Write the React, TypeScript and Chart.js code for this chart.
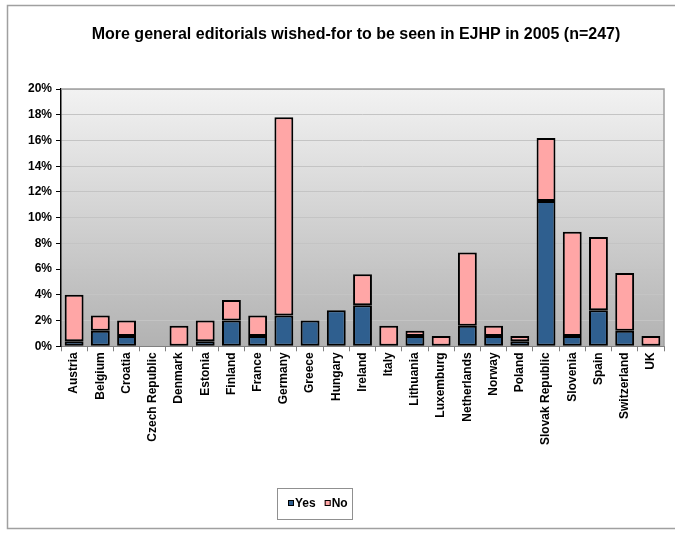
import React, { useEffect, useRef } from "react";
import { Chart, registerables } from "chart.js";

Chart.register(...registerables);

const TITLE = "More general editorials wished-for to be seen in EJHP in 2005 (n=247)";
const countries = [
  "Austria", "Belgium", "Croatia", "Czech Republic", "Denmark", "Estonia", "Finland", "France",
  "Germany", "Greece", "Hungary", "Ireland", "Italy", "Lithuania", "Luxemburg", "Netherlands",
  "Norway", "Poland", "Slovak Republic", "Slovenia", "Spain", "Switzerland", "UK",
];
const yesValues = [0.4, 1.2, 0.8, 0, 0, 0.4, 2.0, 0.8, 2.4, 2.0, 2.8, 3.2, 0, 0.8, 0, 1.6, 0.8, 0.4, 11.3, 0.8, 2.8, 1.2, 0];
const noValues = [3.6, 1.2, 1.2, 0, 1.6, 1.6, 1.6, 1.6, 15.4, 0, 0, 2.4, 1.6, 0.4, 0.8, 5.7, 0.8, 0.4, 4.9, 8.1, 5.7, 4.5, 0.8];
const seriesNames = ["Yes", "No"];
const seriesColors = ["#2F5F8F", "#FFA6A6"];
const yMax = 20;
const yStep = 2;

const FONT = "Arial, 'Liberation Sans', sans-serif";

const decor = {
  id: "decor",
  beforeDraw(chart: any) {
    const { ctx, chartArea: a, width, height } = chart;
    ctx.save();
    ctx.fillStyle = "#ffffff";
    ctx.fillRect(0, 0, width, height);
    const g = ctx.createLinearGradient(0, a.top, 0, a.bottom);
    g.addColorStop(0, "#f2f2f2");
    g.addColorStop(1, "#b2b2b2");
    ctx.fillStyle = g;
    ctx.fillRect(a.left, a.top, a.right - a.left, a.bottom - a.top);
    ctx.restore();
  },
  beforeDatasetsDraw(chart: any) {
    const { ctx, chartArea: a } = chart;
    ctx.save();
    ctx.strokeStyle = "#a0a0a0";
    ctx.lineWidth = 1.5;
    ctx.beginPath();
    ctx.moveTo(a.left, a.top);
    ctx.lineTo(a.right, a.top);
    ctx.lineTo(a.right, a.bottom);
    ctx.stroke();
    ctx.restore();
  },
  afterDraw(chart: any) {
    const { ctx } = chart;
    ctx.save();
    // outer border
    ctx.strokeStyle = "#a0a0a0";
    ctx.lineWidth = 1.5;
    ctx.beginPath();
    ctx.moveTo(680, 5.5);
    ctx.lineTo(7.5, 5.5);
    ctx.lineTo(7.5, 528.5);
    ctx.lineTo(680, 528.5);
    ctx.stroke();
    // title
    ctx.fillStyle = "#000";
    ctx.font = "bold 16px " + FONT;
    ctx.textAlign = "center";
    ctx.textBaseline = "middle";
    ctx.fillText(TITLE, 356, 35);
    // legend
    ctx.strokeStyle = "#909090";
    ctx.lineWidth = 1;
    ctx.strokeRect(277.5, 488.5, 75, 31);
    ctx.font = "bold 12px " + FONT;
    ctx.textAlign = "left";
    let x = 288;
    seriesNames.forEach((n, i) => {
      ctx.fillStyle = seriesColors[i];
      ctx.fillRect(x, 500, 6, 6);
      ctx.strokeStyle = "#000";
      ctx.strokeRect(x + 0.5, 500.5, 5, 5);
      ctx.fillStyle = "#000";
      ctx.fillText(n, x + 7, 504);
      x += 7 + ctx.measureText(n).width + 9;
    });
    ctx.restore();
  },
};

export default function App() {
  const ref = useRef<HTMLCanvasElement>(null);
  useEffect(() => {
    if (!ref.current) return;
    const chart = new Chart(ref.current, {
      type: "bar",
      data: {
        labels: countries,
        datasets: [
          { label: seriesNames[0], data: yesValues, backgroundColor: seriesColors[0], borderColor: "#000", borderWidth: 2, borderSkipped: false },
          { label: seriesNames[1], data: noValues, backgroundColor: seriesColors[1], borderColor: "#000", borderWidth: 2, borderSkipped: false },
        ],
      },
      plugins: [decor],
      options: {
        animation: false,
        responsive: false,
        devicePixelRatio: 1,
        layout: { padding: { top: 89, left: 24, right: 11, bottom: 95 } },
        plugins: { legend: { display: false }, title: { display: false }, tooltip: { enabled: false } },
        datasets: { bar: { categoryPercentage: 1, barPercentage: 0.72 } },
        scales: {
          x: {
            stacked: true,
            grid: { display: true, drawOnChartArea: false, offset: true, tickLength: 5, color: "#808080" },
            border: { color: "#808080", width: 1 },
            ticks: { color: "#000", font: { family: FONT, size: 12, weight: "bold" }, minRotation: 90, maxRotation: 90, autoSkip: false, padding: 1 },
          },
          y: {
            stacked: true,
            min: 0,
            max: yMax,
            grid: { color: "#c4c4c4", lineWidth: 1, tickLength: 5, tickColor: "#000" },
            border: { color: "#000", width: 1.5 },
            ticks: { stepSize: yStep, color: "#000", font: { family: FONT, size: 12, weight: "bold" }, padding: 4, callback: (v: any) => v + "%" },
          },
        },
      },
    });
    return () => chart.destroy();
  }, []);
  return (
    <div style={{ position: "absolute", left: 0, top: 0, width: 675, height: 541 }}>
      <canvas ref={ref} width={675} height={541} style={{ width: 675, height: 541, display: "block" }} />
    </div>
  );
}
